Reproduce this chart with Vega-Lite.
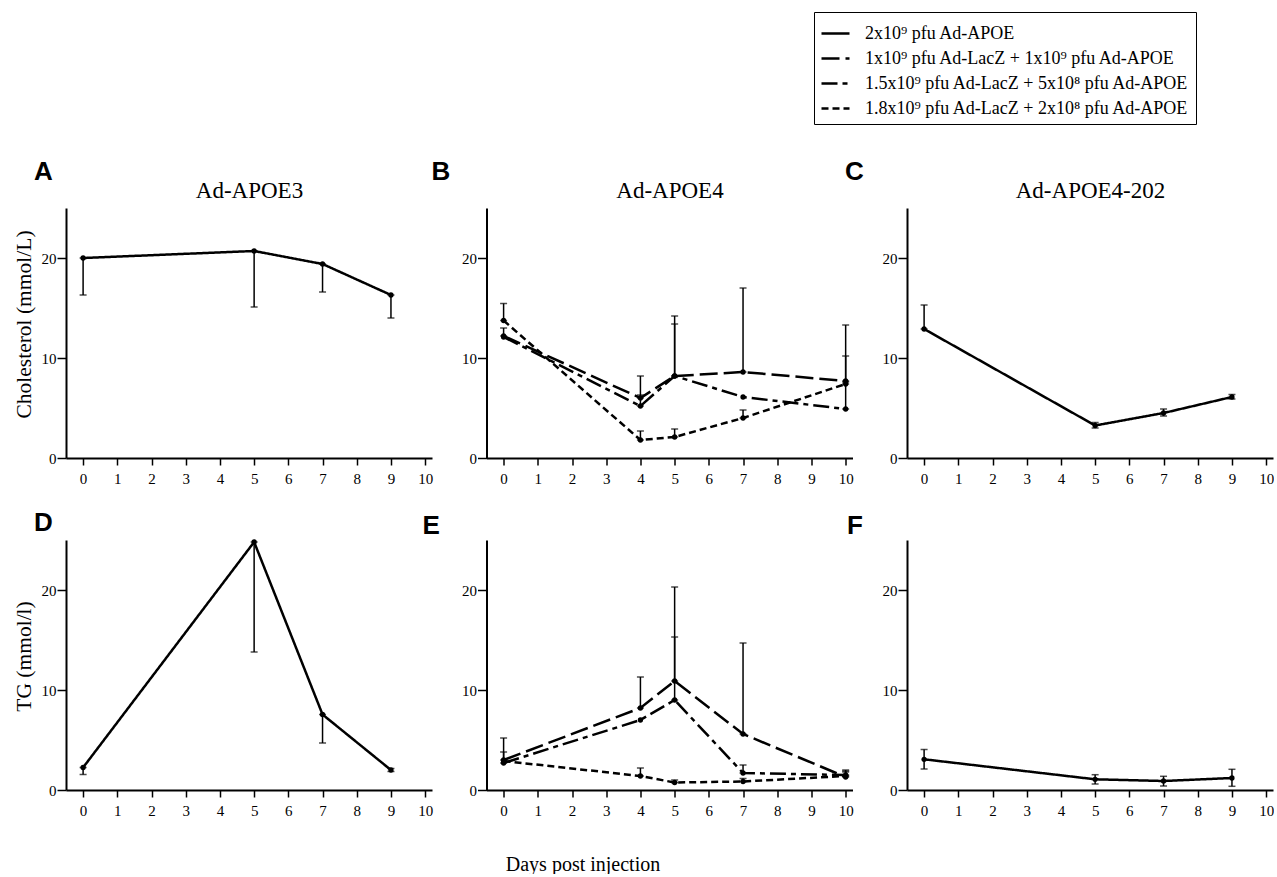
{
  "$schema": "https://vega.github.io/schema/vega-lite/v6.json",
  "padding": {"left": 13, "top": 11, "right": 0, "bottom": 0},
  "background": "white",
  "datasets": {
    "d": [
      {"panel": "A", "day": 0, "series": "2x10⁹ pfu Ad-APOE", "mean": 20.0, "lo": 16.3, "hi": 20.0},
      {"panel": "A", "day": 5, "series": "2x10⁹ pfu Ad-APOE", "mean": 20.7, "lo": 15.1, "hi": 20.7},
      {"panel": "A", "day": 7, "series": "2x10⁹ pfu Ad-APOE", "mean": 19.4, "lo": 16.6, "hi": 19.4},
      {"panel": "A", "day": 9, "series": "2x10⁹ pfu Ad-APOE", "mean": 16.3, "lo": 14.0, "hi": 16.3},

      {"panel": "B", "day": 0, "series": "1x10⁹ pfu Ad-LacZ + 1x10⁹ pfu Ad-APOE", "mean": 12.2, "lo": 12.2, "hi": 13.0},
      {"panel": "B", "day": 4, "series": "1x10⁹ pfu Ad-LacZ + 1x10⁹ pfu Ad-APOE", "mean": 6.0, "lo": 6.0, "hi": 8.2},
      {"panel": "B", "day": 5, "series": "1x10⁹ pfu Ad-LacZ + 1x10⁹ pfu Ad-APOE", "mean": 8.2, "lo": 8.2, "hi": 14.2},
      {"panel": "B", "day": 7, "series": "1x10⁹ pfu Ad-LacZ + 1x10⁹ pfu Ad-APOE", "mean": 8.6, "lo": 8.6, "hi": 17.0},
      {"panel": "B", "day": 10, "series": "1x10⁹ pfu Ad-LacZ + 1x10⁹ pfu Ad-APOE", "mean": 7.7, "lo": 7.7, "hi": 13.3},
      {"panel": "B", "day": 0, "series": "1.5x10⁹ pfu Ad-LacZ + 5x10⁸ pfu Ad-APOE", "mean": 12.1, "lo": 12.1, "hi": 12.1},
      {"panel": "B", "day": 4, "series": "1.5x10⁹ pfu Ad-LacZ + 5x10⁸ pfu Ad-APOE", "mean": 5.2, "lo": 5.2, "hi": 6.3},
      {"panel": "B", "day": 5, "series": "1.5x10⁹ pfu Ad-LacZ + 5x10⁸ pfu Ad-APOE", "mean": 8.2, "lo": 8.2, "hi": 13.4},
      {"panel": "B", "day": 7, "series": "1.5x10⁹ pfu Ad-LacZ + 5x10⁸ pfu Ad-APOE", "mean": 6.1, "lo": 6.1, "hi": 6.1},
      {"panel": "B", "day": 10, "series": "1.5x10⁹ pfu Ad-LacZ + 5x10⁸ pfu Ad-APOE", "mean": 4.9, "lo": 4.9, "hi": 10.2},
      {"panel": "B", "day": 0, "series": "1.8x10⁹ pfu Ad-LacZ + 2x10⁸ pfu Ad-APOE", "mean": 13.75, "lo": 13.75, "hi": 15.45},
      {"panel": "B", "day": 4, "series": "1.8x10⁹ pfu Ad-LacZ + 2x10⁸ pfu Ad-APOE", "mean": 1.8, "lo": 1.8, "hi": 2.7},
      {"panel": "B", "day": 5, "series": "1.8x10⁹ pfu Ad-LacZ + 2x10⁸ pfu Ad-APOE", "mean": 2.1, "lo": 2.1, "hi": 2.9},
      {"panel": "B", "day": 7, "series": "1.8x10⁹ pfu Ad-LacZ + 2x10⁸ pfu Ad-APOE", "mean": 4.0, "lo": 4.0, "hi": 4.8},
      {"panel": "B", "day": 10, "series": "1.8x10⁹ pfu Ad-LacZ + 2x10⁸ pfu Ad-APOE", "mean": 7.4, "lo": 7.4, "hi": 7.6},

      {"panel": "C", "day": 0, "series": "2x10⁹ pfu Ad-APOE", "mean": 12.9, "lo": 12.9, "hi": 15.3},
      {"panel": "C", "day": 5, "series": "2x10⁹ pfu Ad-APOE", "mean": 3.25, "lo": 3.0, "hi": 3.55},
      {"panel": "C", "day": 7, "series": "2x10⁹ pfu Ad-APOE", "mean": 4.5, "lo": 4.2, "hi": 4.9},
      {"panel": "C", "day": 9, "series": "2x10⁹ pfu Ad-APOE", "mean": 6.1, "lo": 5.9, "hi": 6.35},

      {"panel": "D", "day": 0, "series": "2x10⁹ pfu Ad-APOE", "mean": 2.25, "lo": 1.55, "hi": 2.25},
      {"panel": "D", "day": 5, "series": "2x10⁹ pfu Ad-APOE", "mean": 24.8, "lo": 13.8, "hi": 24.8},
      {"panel": "D", "day": 7, "series": "2x10⁹ pfu Ad-APOE", "mean": 7.55, "lo": 4.7, "hi": 7.55},
      {"panel": "D", "day": 9, "series": "2x10⁹ pfu Ad-APOE", "mean": 2.0, "lo": 1.85, "hi": 2.15},

      {"panel": "E", "day": 0, "series": "1x10⁹ pfu Ad-LacZ + 1x10⁹ pfu Ad-APOE", "mean": 3.0, "lo": 3.0, "hi": 5.2},
      {"panel": "E", "day": 4, "series": "1x10⁹ pfu Ad-LacZ + 1x10⁹ pfu Ad-APOE", "mean": 8.2, "lo": 8.2, "hi": 11.3},
      {"panel": "E", "day": 5, "series": "1x10⁹ pfu Ad-LacZ + 1x10⁹ pfu Ad-APOE", "mean": 10.9, "lo": 10.9, "hi": 20.3},
      {"panel": "E", "day": 7, "series": "1x10⁹ pfu Ad-LacZ + 1x10⁹ pfu Ad-APOE", "mean": 5.6, "lo": 5.6, "hi": 14.7},
      {"panel": "E", "day": 10, "series": "1x10⁹ pfu Ad-LacZ + 1x10⁹ pfu Ad-APOE", "mean": 1.3, "lo": 1.3, "hi": 2.0},
      {"panel": "E", "day": 0, "series": "1.5x10⁹ pfu Ad-LacZ + 5x10⁸ pfu Ad-APOE", "mean": 2.7, "lo": 2.7, "hi": 3.8},
      {"panel": "E", "day": 4, "series": "1.5x10⁹ pfu Ad-LacZ + 5x10⁸ pfu Ad-APOE", "mean": 7.0, "lo": 7.0, "hi": 7.0},
      {"panel": "E", "day": 5, "series": "1.5x10⁹ pfu Ad-LacZ + 5x10⁸ pfu Ad-APOE", "mean": 9.0, "lo": 9.0, "hi": 15.3},
      {"panel": "E", "day": 7, "series": "1.5x10⁹ pfu Ad-LacZ + 5x10⁸ pfu Ad-APOE", "mean": 1.7, "lo": 1.7, "hi": 2.5},
      {"panel": "E", "day": 10, "series": "1.5x10⁹ pfu Ad-LacZ + 5x10⁸ pfu Ad-APOE", "mean": 1.5, "lo": 1.5, "hi": 1.8},
      {"panel": "E", "day": 0, "series": "1.8x10⁹ pfu Ad-LacZ + 2x10⁸ pfu Ad-APOE", "mean": 2.9, "lo": 2.9, "hi": 2.9},
      {"panel": "E", "day": 4, "series": "1.8x10⁹ pfu Ad-LacZ + 2x10⁸ pfu Ad-APOE", "mean": 1.4, "lo": 1.4, "hi": 2.2},
      {"panel": "E", "day": 5, "series": "1.8x10⁹ pfu Ad-LacZ + 2x10⁸ pfu Ad-APOE", "mean": 0.75, "lo": 0.75, "hi": 1.0},
      {"panel": "E", "day": 7, "series": "1.8x10⁹ pfu Ad-LacZ + 2x10⁸ pfu Ad-APOE", "mean": 0.85, "lo": 0.85, "hi": 1.15},
      {"panel": "E", "day": 10, "series": "1.8x10⁹ pfu Ad-LacZ + 2x10⁸ pfu Ad-APOE", "mean": 1.4, "lo": 1.4, "hi": 1.9},

      {"panel": "F", "day": 0, "series": "2x10⁹ pfu Ad-APOE", "mean": 3.07, "lo": 2.1, "hi": 4.05},
      {"panel": "F", "day": 5, "series": "2x10⁹ pfu Ad-APOE", "mean": 1.07, "lo": 0.6, "hi": 1.53},
      {"panel": "F", "day": 7, "series": "2x10⁹ pfu Ad-APOE", "mean": 0.9, "lo": 0.4, "hi": 1.37},
      {"panel": "F", "day": 9, "series": "2x10⁹ pfu Ad-APOE", "mean": 1.2, "lo": 0.37, "hi": 2.07}
    ]
  },
  "config": {
    "view": {"stroke": null},
    "font": "Liberation Serif",
    "axis": {
      "domainColor": "black", "domainWidth": 2, "tickColor": "black", "tickWidth": 1.5,
      "labelFont": "Liberation Serif", "labelFontSize": 15, "labelColor": "black", "labelFlush": false,
      "grid": false, "titleFont": "Liberation Serif", "titleFontWeight": "normal", "titleColor": "black", "titleFontSize": 21.5
    },
    "axisX": {"tickSize": 7, "labelPadding": 6},
    "axisY": {"tickSize": 9, "labelPadding": 1, "titlePadding": 6},
    "title": {"font": "Liberation Sans", "fontWeight": "bold", "fontSize": 26, "color": "black", "anchor": "start", "frame": "group", "baseline": "alphabetic"},
    "legend": {
      "orient": "none", "legendX": 748, "legendY": -196, "strokeColor": "black", "strokeWidth": 1, "padding": 6,
      "symbolType": "stroke", "symbolSize": 784, "symbolStrokeWidth": 2.5, "symbolStrokeColor": "black",
      "labelFont": "Liberation Serif", "labelFontSize": 18, "labelColor": "black", "labelOffset": 14, "rowPadding": -2, "labelLimit": 600
    }
  },
  "concat": [
    {
      "width": 366, "height": 250,
      "title": {"text": "A", "dx": -32, "offset": -6},
      "data": {"name": "d"},
      "transform": [{"filter": "datum.panel === 'A'"}],
      "layer": [
        {
          "encoding": {"x": {"field": "day", "type": "quantitative", "scale": {"domain": [-0.5, 10.2], "nice": false, "zero": false}, "axis": {"values": [0,1,2,3,4,5,6,7,8,9,10], "title": null}}},
          "layer": [
            {"transform": [{"filter": "datum.hi > datum.lo"}], "mark": {"type": "errorbar", "ticks": {"size": 7, "thickness": 1.5, "color": "black"}, "rule": {"strokeWidth": 1.5, "color": "black"}},
             "encoding": {"y": {"field": "lo", "type": "quantitative", "scale": {"domain": [0, 25], "nice": false}, "axis": {"values": [0, 10, 20], "title": "Cholesterol (mmol/L)", "titleY": 116}}, "y2": {"field": "hi"}}},
            {"mark": {"type": "line", "color": "black", "strokeWidth": 2.5},
             "encoding": {"y": {"field": "mean", "type": "quantitative", "scale": {"domain": [0, 25], "nice": false}, "axis": {"values": [0, 10, 20], "title": "Cholesterol (mmol/L)", "titleY": 116}},
               "strokeDash": {"field": "series", "type": "nominal", "scale": {"domain": ["2x10⁹ pfu Ad-APOE", "1x10⁹ pfu Ad-LacZ + 1x10⁹ pfu Ad-APOE", "1.5x10⁹ pfu Ad-LacZ + 5x10⁸ pfu Ad-APOE", "1.8x10⁹ pfu Ad-LacZ + 2x10⁸ pfu Ad-APOE"], "range": [[1, 0], [18, 6], [16, 5, 5, 5], [7, 4]]}, "legend": {"title": null}}}},
            {"mark": {"type": "point", "filled": true, "color": "black", "opacity": 1, "size": 28},
             "encoding": {"y": {"field": "mean", "type": "quantitative", "scale": {"domain": [0, 25], "nice": false}, "axis": {"values": [0, 10, 20], "title": "Cholesterol (mmol/L)", "titleY": 116}}}}
          ]
        },
        {"mark": {"type": "point", "opacity": 0},
         "encoding": {"x": {"field": "day", "type": "quantitative", "axis": {"orient": "top", "title": "Ad-APOE3", "labels": false, "ticks": false, "domain": false, "titleFontSize": 23, "titleBaseline": "alphabetic", "titleY": -11}},
           "y": {"field": "mean", "type": "quantitative"}}}
      ],
      "resolve": {"axis": {"x": "independent"}}
    },
    {
      "width": 366, "height": 250,
      "title": {"text": "B", "dx": -55, "offset": -6},
      "data": {"name": "d"},
      "transform": [{"filter": "datum.panel === 'B'"}],
      "layer": [
        {
          "encoding": {"x": {"field": "day", "type": "quantitative", "scale": {"domain": [-0.5, 10.2], "nice": false, "zero": false}, "axis": {"values": [0,1,2,3,4,5,6,7,8,9,10], "title": null}}},
          "layer": [
            {"transform": [{"filter": "datum.hi > datum.lo"}], "mark": {"type": "errorbar", "ticks": {"size": 7, "thickness": 1.5, "color": "black"}, "rule": {"strokeWidth": 1.5, "color": "black"}},
             "encoding": {"y": {"field": "lo", "type": "quantitative", "scale": {"domain": [0, 25], "nice": false}, "axis": {"values": [0, 10, 20], "title": null}}, "y2": {"field": "hi"}}},
            {"mark": {"type": "line", "color": "black", "strokeWidth": 2.5},
             "encoding": {"y": {"field": "mean", "type": "quantitative", "scale": {"domain": [0, 25], "nice": false}, "axis": {"values": [0, 10, 20], "title": null}},
               "strokeDash": {"field": "series", "type": "nominal", "scale": {"domain": ["2x10⁹ pfu Ad-APOE", "1x10⁹ pfu Ad-LacZ + 1x10⁹ pfu Ad-APOE", "1.5x10⁹ pfu Ad-LacZ + 5x10⁸ pfu Ad-APOE", "1.8x10⁹ pfu Ad-LacZ + 2x10⁸ pfu Ad-APOE"], "range": [[1, 0], [18, 6], [16, 5, 5, 5], [7, 4]]}, "legend": {"title": null}}}},
            {"mark": {"type": "point", "filled": true, "color": "black", "opacity": 1, "size": 28},
             "encoding": {"y": {"field": "mean", "type": "quantitative", "scale": {"domain": [0, 25], "nice": false}, "axis": {"values": [0, 10, 20], "title": null}}}}
          ]
        },
        {"mark": {"type": "point", "opacity": 0},
         "encoding": {"x": {"field": "day", "type": "quantitative", "axis": {"orient": "top", "title": "Ad-APOE4", "labels": false, "ticks": false, "domain": false, "titleFontSize": 23, "titleBaseline": "alphabetic", "titleY": -11}},
           "y": {"field": "mean", "type": "quantitative"}}}
      ],
      "resolve": {"axis": {"x": "independent"}}
    },
    {
      "width": 366, "height": 250,
      "title": {"text": "C", "dx": -62, "offset": -6},
      "data": {"name": "d"},
      "transform": [{"filter": "datum.panel === 'C'"}],
      "layer": [
        {
          "encoding": {"x": {"field": "day", "type": "quantitative", "scale": {"domain": [-0.5, 10.2], "nice": false, "zero": false}, "axis": {"values": [0,1,2,3,4,5,6,7,8,9,10], "title": null}}},
          "layer": [
            {"transform": [{"filter": "datum.hi > datum.lo"}], "mark": {"type": "errorbar", "ticks": {"size": 7, "thickness": 1.5, "color": "black"}, "rule": {"strokeWidth": 1.5, "color": "black"}},
             "encoding": {"y": {"field": "lo", "type": "quantitative", "scale": {"domain": [0, 25], "nice": false}, "axis": {"values": [0, 10, 20], "title": null}}, "y2": {"field": "hi"}}},
            {"mark": {"type": "line", "color": "black", "strokeWidth": 2.5},
             "encoding": {"y": {"field": "mean", "type": "quantitative", "scale": {"domain": [0, 25], "nice": false}, "axis": {"values": [0, 10, 20], "title": null}},
               "strokeDash": {"field": "series", "type": "nominal", "scale": {"domain": ["2x10⁹ pfu Ad-APOE", "1x10⁹ pfu Ad-LacZ + 1x10⁹ pfu Ad-APOE", "1.5x10⁹ pfu Ad-LacZ + 5x10⁸ pfu Ad-APOE", "1.8x10⁹ pfu Ad-LacZ + 2x10⁸ pfu Ad-APOE"], "range": [[1, 0], [18, 6], [16, 5, 5, 5], [7, 4]]}, "legend": {"title": null}}}},
            {"mark": {"type": "point", "filled": true, "color": "black", "opacity": 1, "size": 28},
             "encoding": {"y": {"field": "mean", "type": "quantitative", "scale": {"domain": [0, 25], "nice": false}, "axis": {"values": [0, 10, 20], "title": null}}}}
          ]
        },
        {"mark": {"type": "point", "opacity": 0},
         "encoding": {"x": {"field": "day", "type": "quantitative", "axis": {"orient": "top", "title": "Ad-APOE4-202", "labels": false, "ticks": false, "domain": false, "titleFontSize": 23, "titleBaseline": "alphabetic", "titleY": -11}},
           "y": {"field": "mean", "type": "quantitative"}}}
      ],
      "resolve": {"axis": {"x": "independent"}}
    },
    {
      "width": 366, "height": 250,
      "title": {"text": "D", "dx": -32, "offset": 1},
      "data": {"name": "d"},
      "transform": [{"filter": "datum.panel === 'D'"}],
      "encoding": {"x": {"field": "day", "type": "quantitative", "scale": {"domain": [-0.5, 10.2], "nice": false, "zero": false}, "axis": {"values": [0,1,2,3,4,5,6,7,8,9,10], "title": null}}},
      "layer": [
        {"transform": [{"filter": "datum.hi > datum.lo"}], "mark": {"type": "errorbar", "ticks": {"size": 7, "thickness": 1.5, "color": "black"}, "rule": {"strokeWidth": 1.5, "color": "black"}},
         "encoding": {"y": {"field": "lo", "type": "quantitative", "scale": {"domain": [0, 25], "nice": false}, "axis": {"values": [0, 10, 20], "title": "TG (mmol/l)", "titleY": 116}}, "y2": {"field": "hi"}}},
        {"mark": {"type": "line", "color": "black", "strokeWidth": 2.5},
         "encoding": {"y": {"field": "mean", "type": "quantitative", "scale": {"domain": [0, 25], "nice": false}, "axis": {"values": [0, 10, 20], "title": "TG (mmol/l)", "titleY": 116}},
           "strokeDash": {"field": "series", "type": "nominal", "scale": {"domain": ["2x10⁹ pfu Ad-APOE", "1x10⁹ pfu Ad-LacZ + 1x10⁹ pfu Ad-APOE", "1.5x10⁹ pfu Ad-LacZ + 5x10⁸ pfu Ad-APOE", "1.8x10⁹ pfu Ad-LacZ + 2x10⁸ pfu Ad-APOE"], "range": [[1, 0], [18, 6], [16, 5, 5, 5], [7, 4]]}, "legend": {"title": null}}}},
        {"mark": {"type": "point", "filled": true, "color": "black", "opacity": 1, "size": 28},
         "encoding": {"y": {"field": "mean", "type": "quantitative", "scale": {"domain": [0, 25], "nice": false}, "axis": {"values": [0, 10, 20], "title": "TG (mmol/l)", "titleY": 116}}}}
      ]
    },
    {
      "width": 366, "height": 250,
      "title": {"text": "E", "dx": -64, "offset": 1},
      "data": {"name": "d"},
      "transform": [{"filter": "datum.panel === 'E'"}],
      "encoding": {"x": {"field": "day", "type": "quantitative", "scale": {"domain": [-0.5, 10.2], "nice": false, "zero": false}, "axis": {"values": [0,1,2,3,4,5,6,7,8,9,10], "title": "Days post injection", "titleFontSize": 20, "titleX": 96, "titleY": 80, "titleBaseline": "alphabetic", "titleAlign": "center"}}},
      "layer": [
        {"transform": [{"filter": "datum.hi > datum.lo"}], "mark": {"type": "errorbar", "ticks": {"size": 7, "thickness": 1.5, "color": "black"}, "rule": {"strokeWidth": 1.5, "color": "black"}},
         "encoding": {"y": {"field": "lo", "type": "quantitative", "scale": {"domain": [0, 25], "nice": false}, "axis": {"values": [0, 10, 20], "title": null}}, "y2": {"field": "hi"}}},
        {"mark": {"type": "line", "color": "black", "strokeWidth": 2.5},
         "encoding": {"y": {"field": "mean", "type": "quantitative", "scale": {"domain": [0, 25], "nice": false}, "axis": {"values": [0, 10, 20], "title": null}},
           "strokeDash": {"field": "series", "type": "nominal", "scale": {"domain": ["2x10⁹ pfu Ad-APOE", "1x10⁹ pfu Ad-LacZ + 1x10⁹ pfu Ad-APOE", "1.5x10⁹ pfu Ad-LacZ + 5x10⁸ pfu Ad-APOE", "1.8x10⁹ pfu Ad-LacZ + 2x10⁸ pfu Ad-APOE"], "range": [[1, 0], [18, 6], [16, 5, 5, 5], [7, 4]]}, "legend": {"title": null}}}},
        {"mark": {"type": "point", "filled": true, "color": "black", "opacity": 1, "size": 28},
         "encoding": {"y": {"field": "mean", "type": "quantitative", "scale": {"domain": [0, 25], "nice": false}, "axis": {"values": [0, 10, 20], "title": null}}}}
      ]
    },
    {
      "width": 366, "height": 250,
      "title": {"text": "F", "dx": -60, "offset": 1},
      "data": {"name": "d"},
      "transform": [{"filter": "datum.panel === 'F'"}],
      "encoding": {"x": {"field": "day", "type": "quantitative", "scale": {"domain": [-0.5, 10.2], "nice": false, "zero": false}, "axis": {"values": [0,1,2,3,4,5,6,7,8,9,10], "title": null}}},
      "layer": [
        {"transform": [{"filter": "datum.hi > datum.lo"}], "mark": {"type": "errorbar", "ticks": {"size": 7, "thickness": 1.5, "color": "black"}, "rule": {"strokeWidth": 1.5, "color": "black"}},
         "encoding": {"y": {"field": "lo", "type": "quantitative", "scale": {"domain": [0, 25], "nice": false}, "axis": {"values": [0, 10, 20], "title": null}}, "y2": {"field": "hi"}}},
        {"mark": {"type": "line", "color": "black", "strokeWidth": 2.5},
         "encoding": {"y": {"field": "mean", "type": "quantitative", "scale": {"domain": [0, 25], "nice": false}, "axis": {"values": [0, 10, 20], "title": null}},
           "strokeDash": {"field": "series", "type": "nominal", "scale": {"domain": ["2x10⁹ pfu Ad-APOE", "1x10⁹ pfu Ad-LacZ + 1x10⁹ pfu Ad-APOE", "1.5x10⁹ pfu Ad-LacZ + 5x10⁸ pfu Ad-APOE", "1.8x10⁹ pfu Ad-LacZ + 2x10⁸ pfu Ad-APOE"], "range": [[1, 0], [18, 6], [16, 5, 5, 5], [7, 4]]}, "legend": {"title": null}}}},
        {"mark": {"type": "point", "filled": true, "color": "black", "opacity": 1, "size": 28},
         "encoding": {"y": {"field": "mean", "type": "quantitative", "scale": {"domain": [0, 25], "nice": false}, "axis": {"values": [0, 10, 20], "title": null}}}}
      ]
    }
  ],
  "columns": 3,
  "spacing": {"row": 82, "column": 54.5},
  "bounds": "flush"
}
